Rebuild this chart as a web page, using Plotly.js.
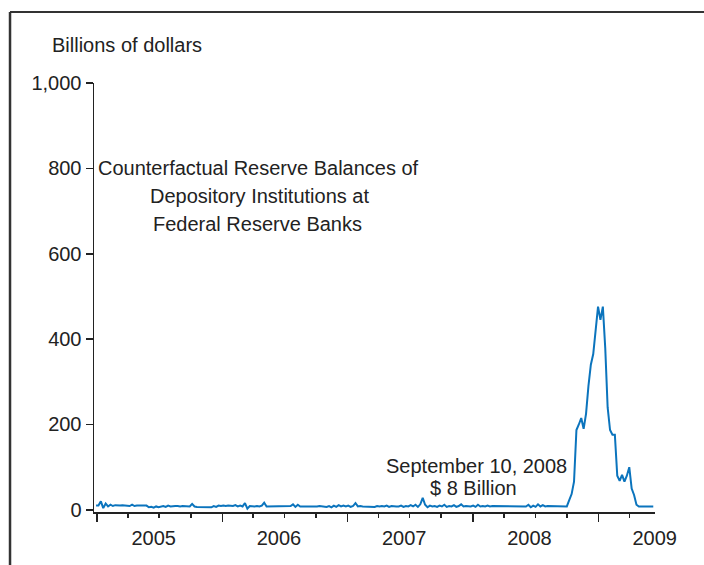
<!DOCTYPE html>
<html>
<head>
<meta charset="utf-8">
<script src="https://cdn.plot.ly/plotly-3.0.1.min.js"></script>
<style>
  html, body { margin: 0; padding: 0; background: #ffffff; }
  #chart { width: 704px; height: 565px; }
</style>
</head>
<body>
<div id="chart"></div>
<script>
// Weekly (Wednesday) observations, first week 2004-12-29
const firstWeek = '2004-12-29';
const weekMs = 7 * 24 * 3600 * 1000;

// Counterfactual reserve balances, billions of dollars (weekly)
const reserves = [
  10,10,20,4,15,8,12,9,11,10,
  10,11,10,10,9,12,9,10,10,10,
  9,10,6,7,5,8,6,7,9,7,
  10,8,9,9,9,8,9,9,8,8,
  14,8,7,7,6,7,7,6,6,9,
  7,10,9,10,9,10,10,9,11,8,
  10,8,16,3,9,8,8,9,8,10,
  17,8,8,8,8,8,8,8,8,8,
  8,9,13,7,12,8,8,8,8,8,
  8,7,8,9,8,8,7,9,6,10,
  7,11,8,10,8,10,7,9,16,8,
  9,8,8,8,8,8,7,9,8,9,
  8,10,7,9,8,8,8,10,7,9,
  8,11,8,12,7,13,28,12,6,10,
  8,9,7,10,8,12,7,9,8,11,
  7,9,13,8,9,8,8,10,7,12,
  8,9,8,10,8,9,9,8,8,9,
  8,8,8,8,8,8,8,8,8,8,
  12,6,10,7,13,8,11,8,9,9,
  9,9,9,8,8,8,8,23,37,66,
  187,200,215,190,225,290,340,365,420,476,
  445,476,379,240,187,176,176,80,68,82,
  66,80,100,50,35,12,8,8,8,8,
  8,8,8
];

// Axis ticks
const yearStarts = ['2005-01-01','2006-01-01','2007-01-01','2008-01-01','2009-01-01'];
const yearLabelPos = ['2005-06-15','2006-06-15','2007-06-15','2008-06-14','2009-06-14'];
const yearLabels = ['2005','2006','2007','2008','2009'];
const yTicks = [0,200,400,600,800,1000];
const yTickText = ['0','200','400','600','800','1,000'];

const xRange = ['2004-12-23','2009-06-15'];
const yRange = [-5, 1000];

const FONT = 'Liberation Sans, Arial, sans-serif';
const INK = '#222222';

const traces = [
  {
    type: 'scatter', mode: 'lines',
    x0: firstWeek, dx: weekMs, y: reserves,
    line: { color: '#0b74bd', width: 2 },
    hoverinfo: 'skip', showlegend: false
  },
  {
    type: 'scatter', mode: 'lines', x: [], y: [],
    xaxis: 'x2', yaxis: 'y', showlegend: false, hoverinfo: 'skip'
  }
];

const layout = {
  width: 704, height: 565,
  margin: { l: 94, r: 49, t: 83, b: 53 },
  paper_bgcolor: '#ffffff', plot_bgcolor: '#ffffff',
  font: { family: FONT, size: 20, color: INK },
  showlegend: false,
  xaxis: {
    type: 'date', range: xRange, fixedrange: true,
    showgrid: false, zeroline: false,
    showline: true, linecolor: INK, linewidth: 1.5,
    tickmode: 'array', tickvals: yearStarts, showticklabels: false,
    ticks: 'outside', ticklen: 8, tickwidth: 1.5, tickcolor: INK,
    minor: { tickmode: 'linear', tick0: '2005-01-01', dtick: 'M3', ticks: 'outside', ticklen: 4, tickwidth: 1.5, tickcolor: INK, showgrid: false }
  },
  xaxis2: {
    type: 'date', range: xRange, overlaying: 'x', side: 'bottom', anchor: 'y', fixedrange: true,
    showgrid: false, zeroline: false, showline: false,
    tickmode: 'array', tickvals: yearLabelPos, ticktext: yearLabels,
    ticks: 'outside', ticklen: 8, tickcolor: 'rgba(0,0,0,0)',
    tickfont: { family: FONT, size: 20, color: INK }
  },
  yaxis: {
    range: yRange, fixedrange: true,
    showgrid: false, zeroline: false,
    showline: true, linecolor: INK, linewidth: 1.5,
    tickmode: 'array', tickvals: yTicks, ticktext: yTickText,
    ticks: 'outside', ticklen: 7, tickwidth: 1.5, tickcolor: INK,
    tickfont: { family: FONT, size: 20, color: INK }
  },
  shapes: [
    { type: 'line', xref: 'paper', yref: 'paper', x0: -0.1497, x1: -0.1497, y0: 1.1655, y1: -0.2, line: { color: '#333333', width: 2.5 } },
    { type: 'line', xref: 'paper', yref: 'paper', x0: -0.1497, x1: 1.2, y0: 1.1655, y1: 1.1655, line: { color: '#333333', width: 2 } }
  ],
  annotations: [
    { text: 'Billions of dollars', xref: 'paper', yref: 'paper', x: (50-94)/561, y: (512-45)/429, xanchor: 'left', yanchor: 'middle', showarrow: false, font: { size: 20 } },
    { text: 'Counterfactual Reserve Balances of', xref: 'paper', yref: 'paper', x: (258-94)/561, y: (512-168)/429, xanchor: 'center', yanchor: 'middle', showarrow: false, font: { size: 20 } },
    { text: 'Depository Institutions at', xref: 'paper', yref: 'paper', x: (259-94)/561, y: (512-196)/429, xanchor: 'center', yanchor: 'middle', showarrow: false, font: { size: 20 } },
    { text: 'Federal Reserve Banks', xref: 'paper', yref: 'paper', x: (257-94)/561, y: (512-224)/429, xanchor: 'center', yanchor: 'middle', showarrow: false, font: { size: 20 } },
    { text: 'September 10, 2008', xref: 'paper', yref: 'paper', x: (476-94)/561, y: (512-466)/429, xanchor: 'center', yanchor: 'middle', showarrow: false, font: { size: 20 } },
    { text: '$ 8 Billion', xref: 'paper', yref: 'paper', x: (473-94)/561, y: (512-488)/429, xanchor: 'center', yanchor: 'middle', showarrow: false, font: { size: 20 } }
  ]
};

Plotly.newPlot('chart', traces, layout, { staticPlot: true, displayModeBar: false });
</script>
</body>
</html>
